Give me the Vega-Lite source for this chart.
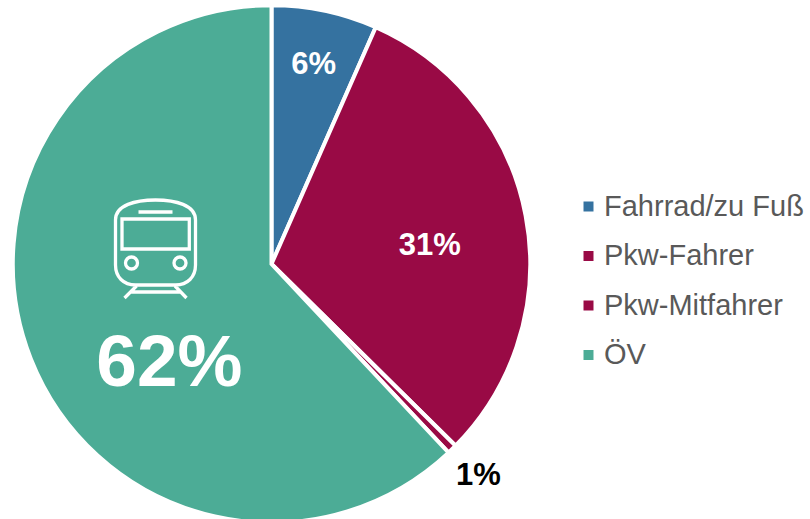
{
"$schema":"https://vega.github.io/schema/vega-lite/v6.json",
"width":543,"height":510,
"autosize":"none",
"padding":{"left":0,"top":9,"right":267,"bottom":0},
"background":"white",
"view":{"stroke":null},
"data":{"values":[
{"Kategorie":"Fahrrad/zu Fuß","Anteil":6.6,"Label":"6%"},
{"Kategorie":"Pkw-Fahrer","Anteil":30.8,"Label":"31%"},
{"Kategorie":"Pkw-Mitfahrer","Anteil":0.6,"Label":"1%"},
{"Kategorie":"ÖV","Anteil":62.0,"Label":"62%"}
]},
"encoding":{
"theta":{"field":"Anteil","type":"quantitative","stack":true,"scale":{"domain":[0,100],"range":[0,6.283185307]}},
"order":{"field":"Kategorie","sort":"ascending"}
},
"layer":[
{"mark":{"type":"arc","outerRadius":258.7,"innerRadius":0,"stroke":"white","strokeWidth":4},
"encoding":{"color":{"field":"Kategorie","type":"nominal","sort":null,
"scale":{"domain":["Fahrrad/zu Fuß","Pkw-Fahrer","Pkw-Mitfahrer","ÖV"],"range":["#3572A0","#990A45","#990A45","#4CAC96"]},
"legend":{"title":null,"orient":"none","legendX":574,"legendY":183,"symbolType":"square","symbolSize":100,"symbolStrokeWidth":0,"labelFont":"Liberation Sans","labelFontSize":29,"labelColor":"#595959","labelOffset":1,"labelLimit":260,"rowPadding":19.5,"symbolOpacity":1}}}},
{"mark":{"type":"text","radius":205,"dx":0,"dy":2,"font":"Liberation Sans","fontWeight":"bold","fontSize":31,"fill":"white"},
"encoding":{"text":{"condition":{"test":"datum.Label==='6%'","field":"Label"},"value":""}}},
{"mark":{"type":"text","radius":160,"dy":12,"dx":1,"font":"Liberation Sans","fontWeight":"bold","fontSize":31,"fill":"white"},
"encoding":{"text":{"condition":{"test":"datum.Label==='31%'","field":"Label"},"value":""}}},
{"mark":{"type":"text","radius":295,"dx":1,"dy":1,"font":"Liberation Sans","fontWeight":"bold","fontSize":31,"fill":"black"},
"encoding":{"text":{"condition":{"test":"datum.Label==='1%'","field":"Label"},"value":""}}},
{"mark":{"type":"text","radius":141,"dx":29,"dy":48,"font":"Liberation Sans","fontWeight":"bold","fontSize":73,"fill":"white"},
"encoding":{"text":{"condition":{"test":"datum.Label==='62%'","field":"Label"},"value":""}}},
{"data":{"values":[{"Symbol":"Zug"}]},
"mark":{"type":"point","filled":false,"x":155.5,"y":238,"size":4,"stroke":"white","strokeWidth":3.3,"opacity":1,
"shape":"M-40,-27 C-40,-42 -20,-47 0,-47 C20,-47 40,-42 40,-27 L40,18 C40,30 32,38 20,38 L-20,38 C-32,38 -40,30 -40,18 Z M-17,-35 L17,-35 M-33.5,-28 L33.8,-28 L33.8,2 L-33.5,2 Z M-18,16 A6,6 0 1 1 -30,16 A6,6 0 1 1 -18,16 Z M30.5,16 A6,6 0 1 1 18.5,16 A6,6 0 1 1 30.5,16 Z M-19,39 L-31,51 M19.5,39 L31,51 M-26,45 L26,45"},
"encoding":{"theta":null,"order":null}}
]
}
